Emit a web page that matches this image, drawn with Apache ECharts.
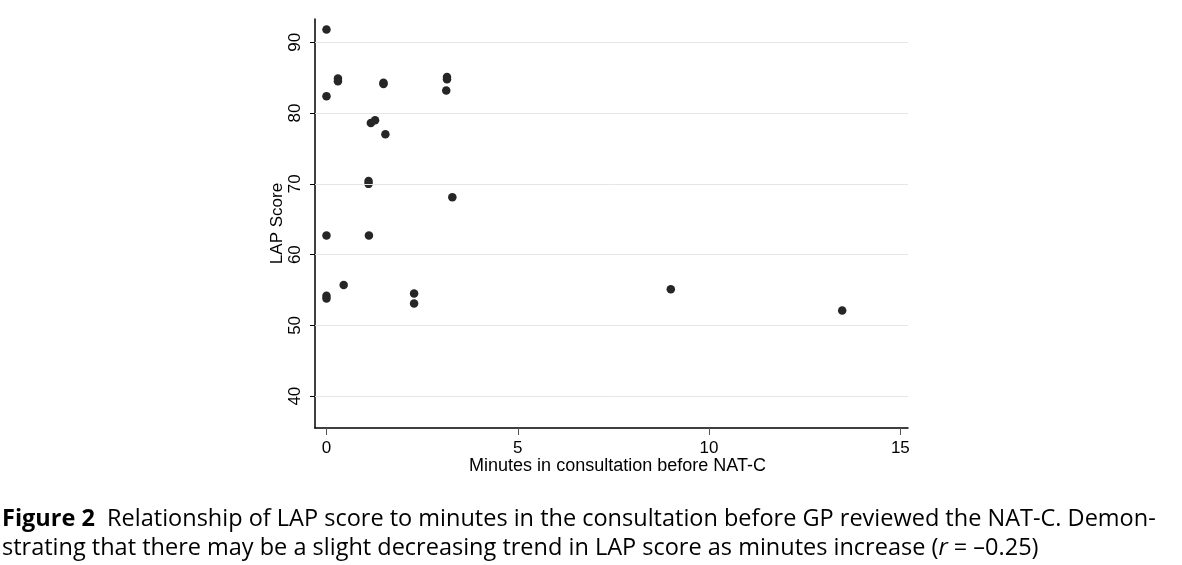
<!DOCTYPE html>
<html>
<head>
<meta charset="utf-8">
<script src="https://cdn.jsdelivr.net/npm/echarts@6/dist/echarts.min.js"></script>
<style>
html,body{margin:0;padding:0;background:#fff;}
#chart{width:1182px;height:565px;}
</style>
</head>
<body>
<div id="chart"></div>
<script>
// Data
const minutes = [0, 0.3, 0.3, 0, 1.49, 1.49, 3.15, 3.15, 3.13, 1.16, 1.27, 1.54, 1.10, 1.10, 3.29, 0, 1.11, 0.45, 0, 0, 2.29, 2.29, 9.0, 13.48];
const lapScore = [91.8, 84.9, 84.5, 82.4, 84.3, 84.1, 85.1, 84.8, 83.2, 78.6, 79.0, 77.0, 70.4, 70.0, 68.1, 62.7, 62.7, 55.7, 54.2, 53.8, 54.5, 53.1, 55.1, 52.1];
const xTicks = [0, 5, 10, 15];
const yTicks = [40, 50, 60, 70, 80, 90];
const xName = 'Minutes in consultation before NAT-C';
const yName = 'LAP Score';
const captionBold = 'Figure 2';
const captionLine1 = 'Relationship of LAP score to minutes in the consultation before GP reviewed the NAT-C. Demon-';
const captionLine2 = 'strating that there may be a slight decreasing trend in LAP score as minutes increase (';
const captionR = 'r';
const captionEnd = ' = \u20130.25)';

const points = minutes.map((m, i) => [m, lapScore[i]]);
const chart = echarts.init(document.getElementById('chart'));
const axisFont = 'Liberation Sans, Arial, sans-serif';
const capFont = '"Open Sans", "Noto Sans", sans-serif';

chart.setOption({
  animation: false,
  backgroundColor: '#fff',
  grid: { left: 315, right: 274, top: 19, bottom: 137, containLabel: false },
  xAxis: {
    type: 'value', min: -0.3, max: 15.2,
    name: xName, nameLocation: 'middle', nameGap: 29, nameMoveOverlap: false,
    nameTextStyle: { fontFamily: axisFont, fontSize: 18, color: '#000', padding: [0, 0, 0, 12] },
    axisLine: { show: true, onZero: false, lineStyle: { color: '#000', width: 1.5 } },
    axisTick: { show: true, length: 7, customValues: xTicks, lineStyle: { color: '#555', width: 1 } },
    axisLabel: { customValues: xTicks, margin: 12, fontFamily: axisFont, fontSize: 17, color: '#000' },
    splitLine: { show: false }
  },
  yAxis: {
    type: 'value', min: 35.5, max: 93.3,
    name: yName, nameLocation: 'middle', nameGap: 29, nameRotate: 90, nameMoveOverlap: false,
    nameTextStyle: { fontFamily: axisFont, fontSize: 17, color: '#000' },
    axisLine: { show: true, onZero: false, lineStyle: { color: '#000', width: 1.5 } },
    axisTick: { show: true, length: 5, customValues: yTicks, lineStyle: { color: '#000', width: 1 } },
    axisLabel: { customValues: yTicks, rotate: 90, margin: 11, fontFamily: axisFont, fontSize: 17, color: '#000' },
    splitLine: { show: false }
  },
  series: [{
    type: 'scatter',
    data: points,
    symbol: 'circle',
    symbolSize: 8.5,
    itemStyle: { color: '#262626', opacity: 1 },
    markLine: {
      silent: true, symbol: ['none', 'none'], label: { show: false },
      lineStyle: { color: '#e6e6e6', width: 1, type: 'solid' },
      data: yTicks.map(v => ({ yAxis: v }))
    },
    z: 3
  }],
  graphic: [{
    type: 'text', left: 2, top: 505,
    style: {
      text: '{b|' + captionBold + '}  ' + captionLine1 + '\n' + captionLine2 + '{i|' + captionR + '}' + captionEnd,
      font: '23.5px ' + capFont,
      fill: '#000',
      lineHeight: 29,
      rich: {
        b: { fontFamily: capFont, fontWeight: 'bold', fontSize: 23.5, lineHeight: 29, fill: '#000' },
        i: { fontFamily: capFont, fontStyle: 'italic', fontSize: 23.5, lineHeight: 29, fill: '#000' }
      }
    }
  }]
});
</script>
</body>
</html>
